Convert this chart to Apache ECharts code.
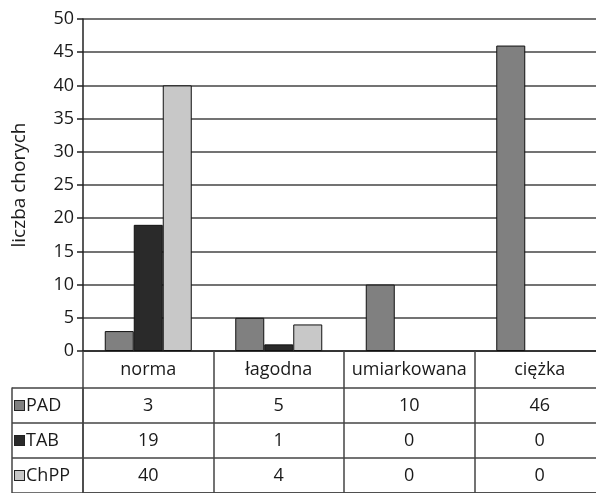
<!DOCTYPE html>
<html><head><meta charset="utf-8">
<script src="https://cdn.jsdelivr.net/npm/echarts@6/dist/echarts.min.js"></script>
<style>html,body{margin:0;padding:0;background:#fff;overflow:hidden;width:596px;height:493px}#c{width:605px;height:493px}</style>
</head><body><div id="c"></div>
<script>
const categories = ['norma', 'łagodna', 'umiarkowana', 'ciężka'];
const seriesNames = ['PAD', 'TAB', 'ChPP'];
const PAD = [3, 5, 10, 46];
const TAB = [19, 1, 0, 0];
const ChPP = [40, 4, 0, 0];
const yTicks = {min: 0, max: 50, interval: 5};
const axisName = 'liczba chorych';

const colors = {PAD: '#808080', TAB: '#2a2a2a', ChPP: '#c8c8c8'};
const values = {PAD, TAB, ChPP};
const FONT = 'Open Sans';
const lineCol = '#444';
const textCol = '#1a1a1a';

const tableData = [];
seriesNames.forEach((s, ri) => values[s].forEach((v, ci) => tableData.push([ci, ri, v])));

const rich = {t: {fontFamily: FONT, fontSize: 18, color: textCol, padding: [0, 0, 0, 2]}};
seriesNames.forEach(s => {
  rich['sq' + s] = {width: 9, height: 9, backgroundColor: colors[s], borderColor: '#222', borderWidth: 1};
});

const chart = echarts.init(document.getElementById('c'), null, {renderer: 'canvas'});
chart.setOption({
  animation: false,
  textStyle: {fontFamily: FONT},
  grid: [
    {left: 83, top: 19, right: 0, bottom: 142},
    {left: 83, top: 388, right: 0, height: 111}
  ],
  xAxis: [
    {type: 'category', gridIndex: 0, data: categories,
     axisLine: {lineStyle: {color: '#222', width: 1.5}},
     axisTick: {show: true, length: 37, interval: 0, alignWithLabel: false, lineStyle: {color: lineCol, width: 1.5}},
     axisLabel: {fontFamily: FONT, fontSize: 18, color: textCol, margin: 10, interval: 0}},
    {type: 'category', gridIndex: 1, data: categories, position: 'top',
     axisLine: {show: true, lineStyle: {color: lineCol, width: 1.5}},
     axisTick: {show: false}, axisLabel: {show: false},
     splitLine: {show: true, interval: 0, lineStyle: {color: lineCol, width: 1.5}}}
  ],
  yAxis: [
    {type: 'value', gridIndex: 0, min: yTicks.min, max: yTicks.max, interval: yTicks.interval,
     name: axisName, nameLocation: 'middle', nameRotate: 90, nameGap: 54,
     nameTextStyle: {fontFamily: FONT, fontSize: 19, color: textCol},
     axisLine: {show: true, lineStyle: {color: '#222', width: 1.5}},
     axisTick: {show: true, length: 6, lineStyle: {color: '#222', width: 1.5}},
     axisLabel: {fontFamily: FONT, fontSize: 18, color: textCol, margin: 9},
     splitLine: {show: true, lineStyle: {color: lineCol, width: 1.5}}},
    {type: 'category', gridIndex: 1, data: seriesNames, inverse: true,
     axisLine: {show: true, lineStyle: {color: lineCol, width: 1.5}},
     axisTick: {show: true, length: 71, interval: 0, lineStyle: {color: lineCol, width: 1.5}},
     axisLabel: {align: 'left', margin: 68, interval: 0,
       formatter: v => '{sq' + v + '|}{t|' + v + '}', rich},
     splitLine: {show: true, interval: 0, lineStyle: {color: lineCol, width: 1.5}}},
    {type: 'value', gridIndex: 1, offset: 71, position: 'left',
     axisLine: {show: true, lineStyle: {color: lineCol, width: 1.5}},
     axisTick: {show: false}, axisLabel: {show: false}, splitLine: {show: false}}
  ],
  series: [
    ...seriesNames.map(s => ({
      name: s, type: 'bar', xAxisIndex: 0, yAxisIndex: 0,
      data: values[s].map(v => v === 0 ? null : v),
      barWidth: 29, barGap: '0%',
      itemStyle: {color: colors[s], borderColor: '#111', borderWidth: 1}
    })),
    {type: 'scatter', xAxisIndex: 1, yAxisIndex: 1, data: tableData,
     symbolSize: 0, itemStyle: {color: '#ffffff'}, silent: true,
     label: {show: true, position: 'inside', fontFamily: FONT, fontSize: 18, color: textCol, opacity: 1,
       formatter: p => String(p.value[2])}}
  ]
});
</script></body></html>
